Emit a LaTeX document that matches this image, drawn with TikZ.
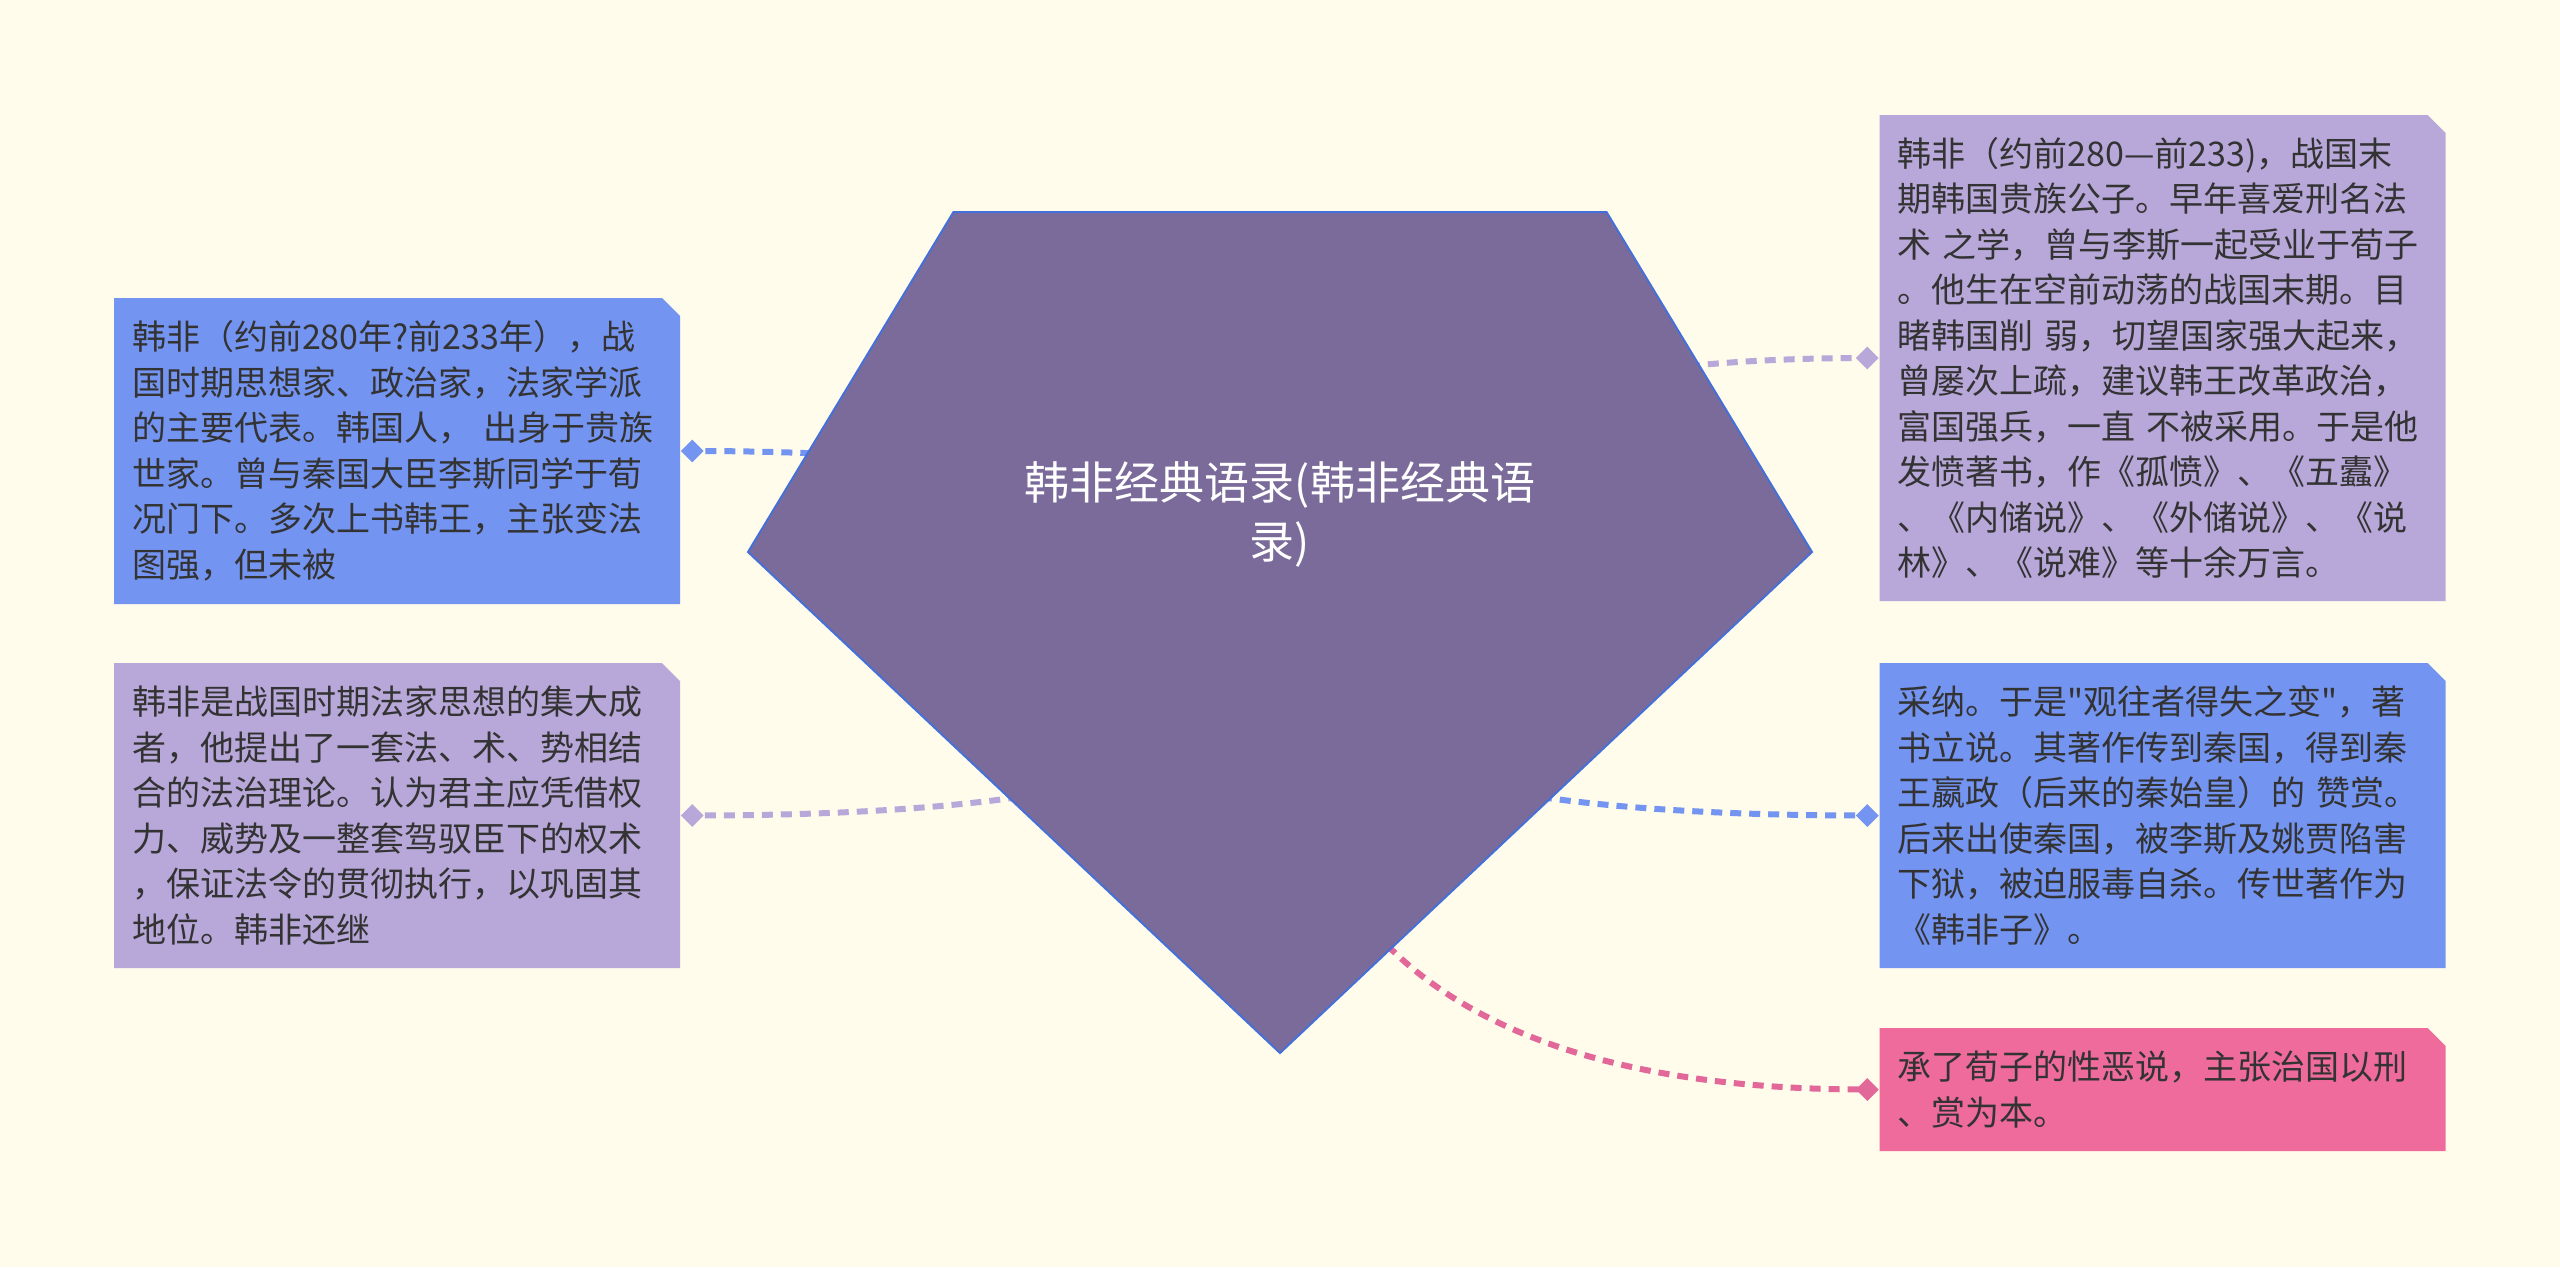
\documentclass[tikz,border=0pt]{standalone}
\usepackage{fontspec}
\newfontfamily\cjkfont{Noto Sans CJK SC}
\usetikzlibrary{shapes.geometric, calc}
\definecolor{paper}{HTML}{FFFCEB}
\definecolor{bluebox}{HTML}{7494F1}
\definecolor{purplebox}{HTML}{B8A8DA}
\definecolor{pinkbox}{HTML}{EF6B9B}
\definecolor{pinkline}{HTML}{E2689A}
\definecolor{rootfill}{HTML}{7A6B9A}
\definecolor{rootline}{HTML}{4570D8}
\definecolor{ink}{HTML}{333333}

\begin{document}
\begin{tikzpicture}[x=1pt, y=-1pt,
		leaf/.style={rectangle, fill=paper, text=ink, inner xsep=18pt, inner ysep=0pt,
			text width=530pt, minimum width=566pt, align=left, font=\cjkfont\fontsize{34}{45.5}\selectfont,
			path picture={\fill[#1] (path picture bounding box.south west) -- (path picture bounding box.north west)
				-- ([xshift=-18pt]path picture bounding box.north east) -- ([yshift=-18pt]path picture bounding box.north east)
				-- (path picture bounding box.south east) -- cycle;}},
		link/.style={draw=#1, line width=6pt, dash pattern=on 11pt off 8pt},
		tip/.style={diamond, fill=#1, inner sep=0pt, minimum size=23pt}]
		\fill[paper] (0, 0) rectangle (2560, 1267);
		\useasboundingbox (0, 0) rectangle (2560, 1267);

		\node[leaf=bluebox, minimum height=306pt] (l1) at (397, 451) {韩非（约前280年?前233年），战\\国时期思想家、政治家，法家学派\\的主要代表。韩国人， 出身于贵族\\世家。曾与秦国大臣李斯同学于荀\\况门下。多次上书韩王，主张变法\\图强，但未被};
		\node[leaf=purplebox, minimum height=305pt] (l2) at (397, 815.5) {韩非是战国时期法家思想的集大成\\者，他提出了一套法、术、势相结\\合的法治理论。认为君主应凭借权\\力、威势及一整套驾驭臣下的权术\\，保证法令的贯彻执行，以巩固其\\地位。韩非还继};
		\node[leaf=purplebox, minimum height=486pt] (r1) at (2162.5, 358) {韩非（约前280—前233)，战国末\\期韩国贵族公子。早年喜爱刑名法\\术 之学，曾与李斯一起受业于荀子\\。他生在空前动荡的战国末期。目\\睹韩国削 弱，切望国家强大起来，\\曾屡次上疏，建议韩王改革政治，\\富国强兵，一直 不被采用。于是他\\发愤著书，作《孤愤》、《五蠹》\\、《内储说》、《外储说》、《说\\林》、《说难》等十余万言。};
		\node[leaf=bluebox, minimum height=305pt] (r2) at (2162.5, 815.5) {采纳。于是"观往者得失之变"，著\\书立说。其著作传到秦国，得到秦\\王嬴政（后来的秦始皇）的 赞赏。\\后来出使秦国，被李斯及姚贾陷害\\下狱，被迫服毒自杀。传世著作为\\《韩非子》。};
		\node[leaf=pinkbox, minimum height=123pt] (r3) at (2162.5, 1089.5) {承了荀子的性恶说，主张治国以刑\\、赏为本。};

		\coordinate (root) at (1280, 650);
		\coordinate (dl1) at ([xshift=12pt]l1.east);
		\coordinate (dl2) at ([xshift=12pt]l2.east);
		\coordinate (dr1) at ([xshift=-12pt]r1.west);
		\coordinate (dr2) at ([xshift=-12pt]r2.west);
		\coordinate (dr3) at ([xshift=-12pt]r3.west);

		\draw[link=bluebox] (root) .. controls ($(root)!2/3!(root |- dl1)$) and ($(dl1)!2/3!(root |- dl1)$) .. (dl1);
		\draw[link=purplebox] (root) .. controls ($(root)!2/3!(root |- dl2)$) and ($(dl2)!2/3!(root |- dl2)$) .. (dl2);
		\draw[link=purplebox] (root) .. controls ($(root)!2/3!(root |- dr1)$) and ($(dr1)!2/3!(root |- dr1)$) .. (dr1);
		\draw[link=bluebox] (root) .. controls ($(root)!2/3!(root |- dr2)$) and ($(dr2)!2/3!(root |- dr2)$) .. (dr2);
		\draw[link=pinkline] (root) .. controls ($(root)!2/3!(root |- dr3)$) and ($(dr3)!2/3!(root |- dr3)$) .. (dr3);

		\coordinate (tl) at (953.5, 212);
		\coordinate (tr) at (1606.5, 212);
		\coordinate (r) at (1812, 552);
		\coordinate (b) at (1280, 1053);
		\coordinate (l) at (748, 552);
		\filldraw[fill=rootfill, draw=rootline, line width=2pt] (tl) -- (tr) -- (r) -- (b) -- (l) -- cycle;
		\node[text=white, align=center, font=\cjkfont\fontsize{45}{59}\selectfont] (title) at (1280, 514.5) {韩非经典语录(韩非经典语\\录)};

		\node[tip=bluebox] at (dl1) {};
		\node[tip=purplebox] at (dl2) {};
		\node[tip=purplebox] at (dr1) {};
		\node[tip=bluebox] at (dr2) {};
		\node[tip=pinkline] at (dr3) {};
	\end{tikzpicture}
\end{document}
